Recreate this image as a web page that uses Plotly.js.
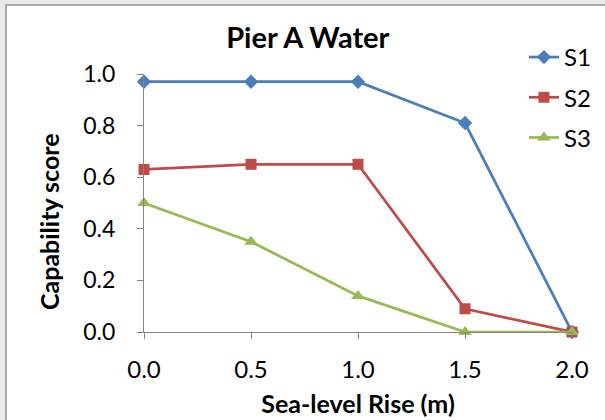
<!DOCTYPE html>
<html>
<head>
<meta charset="utf-8">
<script src="https://cdn.plot.ly/plotly-3.0.1.min.js"></script>
<style>
  html, body { margin: 0; padding: 0; width: 605px; height: 420px; overflow: hidden;
               background: #e7ece8; }
  #frame { position: absolute; left: 5px; top: 4px; width: 600px; height: 416px;
           border-left: 2px solid #a8a8a8; border-top: 2px solid #a8a8a8; background: #fff; }
  #chart { width: 598px; height: 414px; }
</style>
</head>
<body>
<div id="frame"><div id="chart"></div></div>
<script>
// Sea-level rise scenarios (m)
const seaLevelRise = [0.0, 0.5, 1.0, 1.5, 2.0];
// Capability score per scenario
const s1 = [0.97, 0.97, 0.97, 0.81, 0.0];
const s2 = [0.63, 0.65, 0.65, 0.09, 0.0];
const s3 = [0.50, 0.35, 0.14, 0.0, 0.0];
const seriesNames = ['S1', 'S2', 'S3'];
const tickVals = [0.0, 0.5, 1.0, 1.5, 2.0];

const font = 'Lato, "Open Sans", sans-serif';

function series(name, y, color, symbol, size) {
  return {
    type: 'scatter', mode: 'lines+markers', name: name, legendgroup: name,
    x: seaLevelRise, y: y, cliponaxis: false,
    line: { color: color, width: 2.75 },
    marker: { color: color, symbol: symbol, size: size }
  };
}

const traces = [
  series(seriesNames[0], s1, '#4a7ebb', 'diamond', 11),
  series(seriesNames[1], s2, '#be4b48', 'square', 11),
  series(seriesNames[2], s3, '#98b954', 'triangle-up', 12)
];

const layout = {
  width: 598, height: 414,
  margin: { l: 137, r: 33, t: 68, b: 88, autoexpand: false },
  paper_bgcolor: '#ffffff', plot_bgcolor: '#ffffff',
  font: { family: font, color: '#000', size: 24 },
  title: { text: '<b>Pier A Water</b>', font: { size: 29, family: font },
           xref: 'container', x: 0.503, xanchor: 'center',
           yref: 'container', y: 0.923, yanchor: 'middle' },
  xaxis: {
    range: [0, 2], tickvals: tickVals, tickformat: '.1f',
    showgrid: false, zeroline: false, showline: true, linecolor: '#868686', linewidth: 1,
    ticks: 'outside', ticklen: 6, tickcolor: '#868686',
    ticklabelstandoff: 10,
    tickfont: { size: 24 },
    title: { text: '<b>Sea-level Rise (m)</b>', font: { size: 25 }, standoff: 13 }
  },
  yaxis: {
    range: [0, 1], dtick: 0.2, tickformat: '.1f',
    showgrid: false, zeroline: false, showline: true, linecolor: '#868686', linewidth: 1,
    ticks: 'outside', ticklen: 6, tickcolor: '#868686',
    ticklabelstandoff: 17,
    tickfont: { size: 23 }
  },
  // vertical axis title, set slightly below the middle of the axis
  annotations: [{
    text: '<b>Capability score</b>', textangle: -90, showarrow: false,
    xref: 'paper', yref: 'paper', x: -0.222, y: 0.43,
    xanchor: 'center', yanchor: 'middle', font: { size: 25 }
  }],
  showlegend: true,
  legend: {
    xref: 'container', yref: 'container',
    x: 0.8645, y: 0.93, xanchor: 'left', yanchor: 'top',
    traceorder: 'grouped', tracegroupgap: 6,
    font: { size: 24 }, bgcolor: 'rgba(0,0,0,0)', itemwidth: 30
  }
};

Plotly.newPlot('chart', traces, layout, { staticPlot: true, displayModeBar: false });
</script>
</body>
</html>
